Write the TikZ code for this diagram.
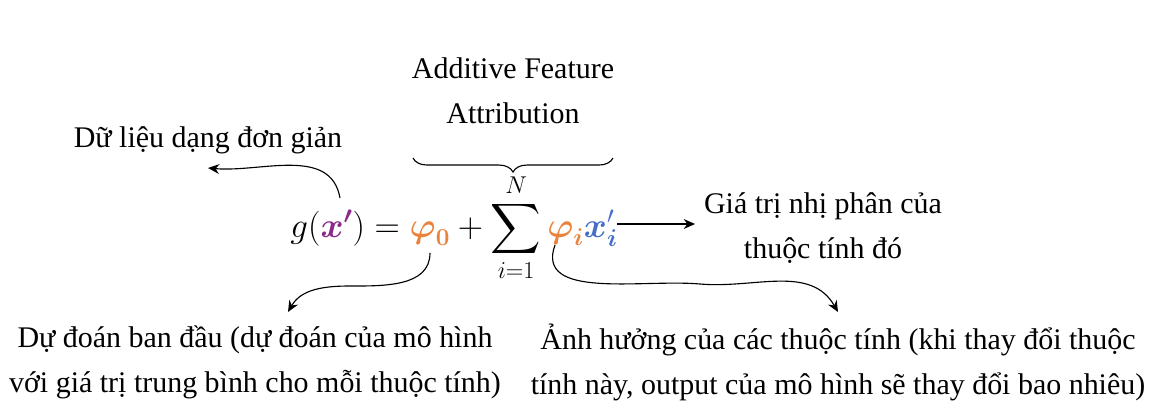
\documentclass[tikz,border=0pt]{standalone}
\usepackage{amsmath}
\usepackage[no-math]{fontspec}
\setmainfont{Liberation Serif}
\usetikzlibrary{positioning, decorations.pathreplacing, arrows.meta}
\definecolor{featpurple}{RGB}{140,40,140}
\definecolor{featorange}{RGB}{235,130,60}
\definecolor{featblue}{RGB}{70,110,200}
\tikzset{
    label text/.style={
        align=center,
        font=\fontsize{21.3}{32}\selectfont,
        inner sep=0pt
    },
    connector/.style={
        -{Stealth[length=8pt,width=7pt]},
        line width=0.8pt
    }
}
\begin{document}
\begin{tikzpicture}[x=0.025cm, y=-0.025cm]
	\useasboundingbox (0,0) rectangle (1156,416);
	\node (formula) [inner sep=0pt] at (454,228) {\fontsize{25.5}{30}\selectfont
		$\displaystyle g(\boldsymbol{\color{featpurple}x'}) = {\color{featorange}\boldsymbol{\varphi}_{\boldsymbol{0}}} + \sum_{i=1}^{N} {\color{featorange}\boldsymbol{\varphi}_{\boldsymbol{i}}}{\color{featblue}\boldsymbol{x}'_{\boldsymbol{i}}}$};
	\node (attribution) [label text] at (513,91) {Additive Feature\\Attribution};
	\node (simple) [label text] at (208,140) {Dữ liệu dạng đơn giản};
	\node (binary) [label text] at (823,228) {Giá trị nhị phân của\\thuộc tính đó};
	\node (baseline) [label text] at (255,362) {Dự đoán ban đầu (dự đoán của mô hình\\với giá trị trung bình cho mỗi thuộc tính)};
	\node (effect) [label text] at (838,362) {Ảnh hưởng của các thuộc tính (khi thay đổi thuộc\\tính này, output của mô hình sẽ thay đổi bao nhiêu)};
	\coordinate (xstart) at (340,198);
	\coordinate (phizero) at (430,253);
	\coordinate (phii) at (555,245);
	\coordinate (xiend) at (617,224);
	\coordinate (binaryend) at (695,224);
	\coordinate (braceleft) at (413,158);
	\coordinate (braceright) at (613,158);
	\draw [line width=0.8pt, decorate, decoration={brace, amplitude=10pt}]
		(braceright) -- (braceleft);
	\draw [connector] (xstart) to[out=100, in=-5] (208,168);
	\draw [connector] (xiend) -- (binaryend);
	\draw [connector] (phizero) to[out=-90, in=0] (350,286) to[out=180, in=60] (288,312);
	\draw [connector] (phii) to[out=-110, in=175] (700,284) to[out=-5, in=120] (838,312);
\end{tikzpicture}
\end{document}
